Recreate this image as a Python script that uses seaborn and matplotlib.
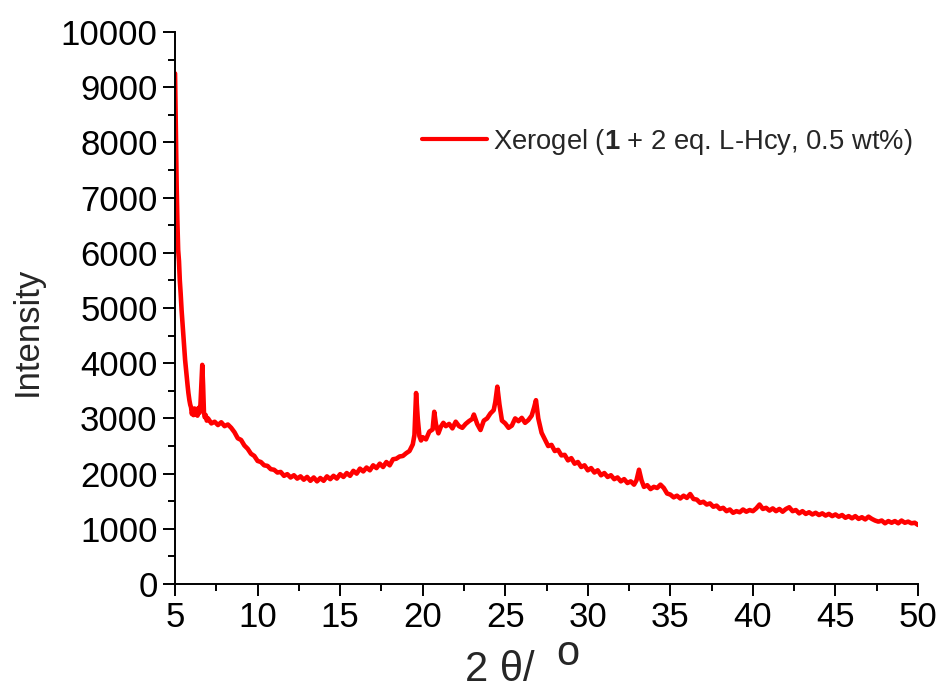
import matplotlib
matplotlib.use("Agg")
import matplotlib.pyplot as plt
from matplotlib.ticker import MultipleLocator
import seaborn as sns
import pandas as pd

# Powder XRD pattern of the xerogel
two_theta = [
    5.00, 5.03, 5.06, 5.10, 5.14, 5.19, 5.24, 5.29, 5.34, 5.40,
    5.47, 5.54, 5.61, 5.66, 5.71, 5.76, 5.81, 5.87, 5.92, 5.97,
    6.02, 6.07, 6.12, 6.18, 6.24, 6.30, 6.36, 6.42, 6.48, 6.54,
    6.60, 6.65, 6.70, 6.75, 6.80, 6.86, 6.92,
    7.0, 7.2, 7.4, 7.6, 7.8, 8.0, 8.2, 8.4, 8.6, 8.8,
    9.0, 9.2, 9.4, 9.6, 9.8, 10.0, 10.2, 10.4, 10.6, 10.8,
    11.0, 11.2, 11.4, 11.6, 11.8, 12.0, 12.2, 12.4, 12.6, 12.8,
    13.0, 13.2, 13.4, 13.6, 13.8, 14.0, 14.2, 14.4, 14.6, 14.8,
    15.0, 15.2, 15.4, 15.6, 15.8, 16.0, 16.2, 16.4, 16.6, 16.8,
    17.0, 17.2, 17.4, 17.6, 17.8, 18.0, 18.2, 18.4, 18.6, 18.8,
    19.0, 19.2, 19.4, 19.5, 19.6, 19.7, 19.8, 19.9, 20.0, 20.2,
    20.4, 20.6, 20.7, 20.8, 20.95, 21.1, 21.25, 21.4, 21.6, 21.8,
    22.0, 22.2, 22.4, 22.6, 22.8, 23.0, 23.1, 23.3, 23.5, 23.7,
    23.9, 24.1, 24.3, 24.4, 24.52, 24.65, 24.8, 25.0, 25.2, 25.4,
    25.6, 25.8, 26.0, 26.2, 26.4, 26.6, 26.75, 26.86, 27.0, 27.2,
    27.4, 27.6, 27.8, 28.0, 28.2, 28.4, 28.6, 28.8, 29.0, 29.2,
    29.4, 29.6, 29.8, 30.0, 30.2, 30.4, 30.6, 30.8, 31.0, 31.2,
    31.4, 31.6, 31.8, 32.0, 32.2, 32.4, 32.6, 32.8, 32.95, 33.1,
    33.25, 33.4, 33.6, 33.8, 34.0, 34.2, 34.4, 34.6, 34.8, 35.0,
    35.2, 35.4, 35.6, 35.8, 36.0, 36.2, 36.4, 36.6, 36.8, 37.0,
    37.2, 37.4, 37.6, 37.8, 38.0, 38.2, 38.4, 38.6, 38.8, 39.0,
    39.2, 39.4, 39.6, 39.8, 40.0, 40.2, 40.4, 40.6, 40.8, 41.0,
    41.2, 41.4, 41.6, 41.8, 42.0, 42.2, 42.4, 42.6, 42.8, 43.0,
    43.2, 43.4, 43.6, 43.8, 44.0, 44.2, 44.4, 44.6, 44.8, 45.0,
    45.2, 45.4, 45.6, 45.8, 46.0, 46.2, 46.4, 46.6, 46.8, 47.0,
    47.2, 47.4, 47.6, 47.8, 48.0, 48.2, 48.4, 48.6, 48.8, 49.0,
    49.2, 49.4, 49.6, 49.8, 50.0,
]
intensity = [
    9250, 8600, 7900, 7200, 6600, 6050, 5850, 5500, 5270, 4950,
    4650, 4350, 4060, 3900, 3750, 3600, 3460, 3330, 3250, 3200,
    3080, 3150, 3060, 3180, 3070, 3120, 3050, 3190, 3100, 3250,
    3650, 3970, 3600, 3120, 3020, 3060, 2960,
    3000, 2910, 2940, 2880, 2930, 2860, 2890, 2830, 2750, 2640,
    2610, 2510, 2450, 2360, 2320, 2230, 2210, 2150, 2140, 2080,
    2070, 2020, 2030, 1960, 1990, 1930, 1970, 1910, 1950, 1890,
    1940, 1870, 1930, 1860, 1920, 1870, 1950, 1900, 1960, 1910,
    1990, 1940, 2010, 1960, 2050, 2000, 2090, 2040, 2110, 2060,
    2150, 2100, 2180, 2120, 2210, 2150, 2260, 2270, 2310, 2320,
    2370, 2410, 2530, 2700, 3460, 3000, 2680, 2600, 2660, 2620,
    2760, 2800, 3120, 2900, 2730, 2850, 2920, 2860, 2900, 2820,
    2940, 2860, 2830, 2900, 2950, 2990, 3070, 2900, 2790, 2960,
    3000, 3090, 3150, 3300, 3575, 3250, 2960, 2910, 2830, 2870,
    3000, 2950, 3010, 2920, 2970, 3050, 3200, 3330, 3000, 2740,
    2620, 2500, 2520, 2410, 2430, 2330, 2340, 2240, 2280, 2180,
    2210, 2120, 2150, 2060, 2100, 2020, 2060, 1970, 2010, 1940,
    1970, 1900, 1930, 1860, 1900, 1830, 1860, 1800, 1880, 2070,
    1880, 1760, 1790, 1720, 1760, 1740, 1800, 1740, 1640, 1620,
    1570, 1600, 1550, 1600, 1560, 1630, 1540, 1530, 1470, 1490,
    1440, 1460, 1400, 1420, 1360, 1380, 1320, 1350, 1290, 1320,
    1300, 1350, 1310, 1340, 1320, 1370, 1440, 1360, 1380, 1330,
    1370, 1320, 1360, 1310, 1360, 1390, 1320, 1340, 1280, 1320,
    1270, 1300, 1260, 1290, 1250, 1280, 1240, 1270, 1230, 1260,
    1220, 1250, 1200, 1230, 1190, 1230, 1180, 1210, 1170, 1220,
    1180, 1150, 1130, 1150, 1100, 1140, 1110, 1140, 1100, 1150,
    1110, 1130, 1100, 1110, 1070,
]
series_label = r"Xerogel ($\mathbf{1}$ + 2 eq. L-Hcy, 0.5 wt%)"

x_ticks = [5, 10, 15, 20, 25, 30, 35, 40, 45, 50]
y_ticks = [0, 1000, 2000, 3000, 4000, 5000, 6000, 7000, 8000, 9000, 10000]

sns.set_theme(style="ticks")
plt.rcParams["font.family"] = ["Liberation Sans", "DejaVu Sans"]
plt.rcParams["mathtext.fontset"] = "custom"
plt.rcParams["mathtext.rm"] = "Liberation Sans"
plt.rcParams["mathtext.bf"] = "Liberation Sans:bold"

df = pd.DataFrame({"two_theta": two_theta, "intensity": intensity})

fig = plt.figure(figsize=(9.41, 6.90), dpi=100)
ax = fig.add_axes([0.186, 0.1536, 0.7896, 0.8000])

sns.lineplot(data=df, x="two_theta", y="intensity", ax=ax, color="#ff0000",
             linewidth=3.3, label=series_label, sort=False, estimator=None)

ax.set_xlim(5, 50)
ax.set_ylim(0, 10000)
ax.set_xticks(x_ticks)
ax.set_yticks(y_ticks)
ax.xaxis.set_minor_locator(MultipleLocator(2.5))
ax.yaxis.set_minor_locator(MultipleLocator(500))

for side in ("top", "right"):
    ax.spines[side].set_visible(False)
for side in ("left", "bottom"):
    ax.spines[side].set_linewidth(1.4)
    ax.spines[side].set_color("black")

ax.tick_params(which="major", direction="out", length=8.5, width=1.4,
               labelsize=25, colors="black", pad=4)
ax.tick_params(which="minor", direction="out", length=5, width=1.4,
               colors="black")

ax.set_xlabel("")
ax.set_ylabel("Intensity", fontsize=25)
ax.yaxis.label.set_verticalalignment("center")
ax.yaxis.set_label_coords(-0.199, 0.458)

# x axis title: "2 θ/" followed by a raised degree "o"
ax.text(0.39, -0.1757, "2 θ/", transform=ax.transAxes, fontsize=30,
        ha="left", va="baseline")
ax.text(0.513, -0.1467, "o", transform=ax.transAxes, fontsize=30,
        ha="left", va="baseline")

leg = ax.legend(loc="center left", bbox_to_anchor=(0.332, 0.8007),
                frameon=False, fontsize=19.7, handlelength=2.38,
                handletextpad=0.22, borderpad=0, borderaxespad=0)
for line in leg.get_lines():
    line.set_linewidth(3)

fig.savefig("out.png", dpi=100)
